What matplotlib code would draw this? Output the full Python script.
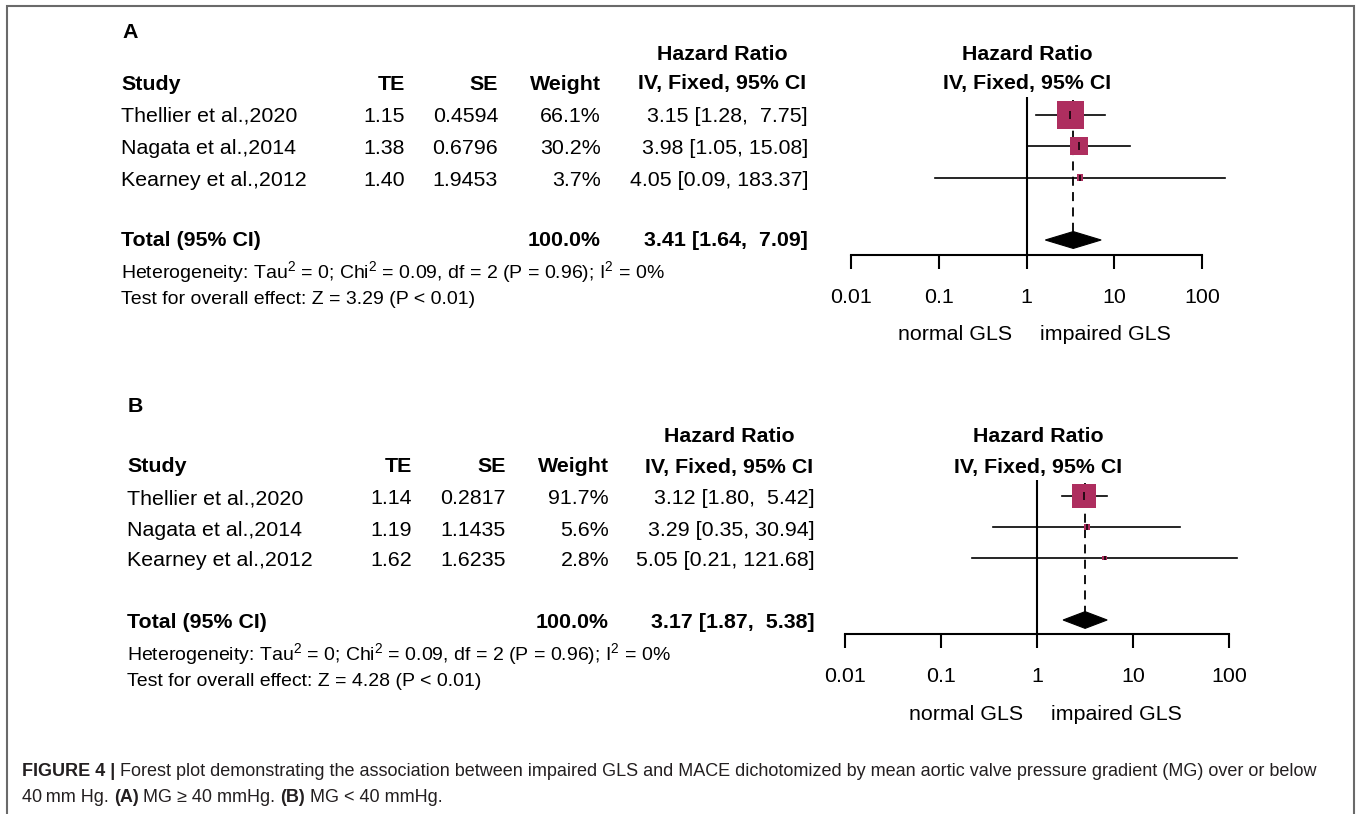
import matplotlib
matplotlib.use("Agg")
import matplotlib.pyplot as plt
import numpy as np
from matplotlib.patches import Polygon

plt.rcParams['font.family'] = ['Liberation Sans', 'DejaVu Sans']
plt.rcParams['mathtext.fontset'] = 'custom'
plt.rcParams['mathtext.rm'] = 'Liberation Sans'
plt.rcParams['mathtext.it'] = 'Liberation Sans:italic'
plt.rcParams['mathtext.bf'] = 'Liberation Sans:bold'

# ---------------- data ----------------
studies = ["Thellier et al.,2020", "Nagata et al.,2014", "Kearney et al.,2012"]

te_a = [1.15, 1.38, 1.40]
se_a = [0.4594, 0.6796, 1.9453]
weight_a = [66.1, 30.2, 3.7]
hr_a = [3.15, 3.98, 4.05]
lo_a = [1.28, 1.05, 0.09]
hi_a = [7.75, 15.08, 183.37]
total_a = [3.41, 1.64, 7.09]
z_a = 3.29

te_b = [1.14, 1.19, 1.62]
se_b = [0.2817, 1.1435, 1.6235]
weight_b = [91.7, 5.6, 2.8]
hr_b = [3.12, 3.29, 5.05]
lo_b = [1.80, 0.35, 0.21]
hi_b = [5.42, 30.94, 121.68]
total_b = [3.17, 1.87, 5.38]
z_b = 4.28

total_weight = 100.0
tau2, chi2, df_het, p_het, i2 = 0, 0.09, 2, 0.96, 0

tick_values = [0.01, 0.1, 1, 10, 100]
tick_labels = ["0.01", "0.1", "1", "10", "100"]
label_left, label_right = "normal GLS", "impaired GLS"

SQ_COLOR = "#AE2E5F"
W, H = 1357, 814

fig = plt.figure(figsize=(W / 100, H / 100), dpi=100)
bg = fig.add_axes([0, 0, 1, 1])
bg.set_xlim(0, W)
bg.set_ylim(H, 0)
bg.axis("off")

# outer frame (open at the bottom)
bg.plot([7, 7, 1354, 1354], [H, 6, 6, H], color="#6a6a6a", lw=1.5,
        solid_joinstyle="miter")

FS = 15.4
FS_SMALL = 14.0


def ci_text(est, lo, hi):
    return f"{est:.2f} [{lo:.2f}, {hi:5.2f}]"


def panel(letter, top, hdr1, hdr2, x0, cols, te, se, weight, hr, lo, hi, total, z,
          fx0, fx1, row_y, row_y_f, row_step, axis_y, vline_top, sq_scale):
    bg.text(x0 + 1, top, letter, fontsize=FS, fontweight="bold", ha="left", va="center")
    te_x, se_x, w_x, ci_x = cols
    ci_c = ci_x - 86
    bg.text(ci_c, hdr1, "Hazard Ratio", fontsize=FS, fontweight="bold", ha="center", va="center")
    bg.text(x0, hdr2, "Study", fontsize=FS, fontweight="bold", ha="left", va="center")
    bg.text(te_x, hdr2, "TE", fontsize=FS, fontweight="bold", ha="right", va="center")
    bg.text(se_x, hdr2, "SE", fontsize=FS, fontweight="bold", ha="right", va="center")
    bg.text(w_x, hdr2, "Weight", fontsize=FS, fontweight="bold", ha="right", va="center")
    bg.text(ci_c, hdr2, "IV, Fixed, 95% CI", fontsize=FS, fontweight="bold", ha="center", va="center")

    fc = (fx0 + fx1) / 2
    bg.text(fc + 1, hdr1, "Hazard Ratio", fontsize=FS, fontweight="bold", ha="center", va="center")
    bg.text(fc + 1, hdr2, "IV, Fixed, 95% CI", fontsize=FS, fontweight="bold", ha="center", va="center")

    for i, name in enumerate(studies):
        y = row_y[i]
        bg.text(x0, y, name, fontsize=FS, ha="left", va="center")
        bg.text(te_x, y, f"{te[i]:.2f}", fontsize=FS, ha="right", va="center")
        bg.text(se_x, y, f"{se[i]:.4f}", fontsize=FS, ha="right", va="center")
        bg.text(w_x, y, f"{weight[i]:.1f}%", fontsize=FS, ha="right", va="center")
        bg.text(ci_x, y, ci_text(hr[i], lo[i], hi[i]), fontsize=FS, ha="right", va="center")

    ty = row_y[3]
    bg.text(x0, ty, "Total (95% CI)", fontsize=FS, fontweight="bold", ha="left", va="center")
    bg.text(w_x, ty, f"{total_weight:.1f}%", fontsize=FS, fontweight="bold", ha="right", va="center")
    bg.text(ci_x, ty, ci_text(*total), fontsize=FS, fontweight="bold", ha="right", va="center")

    het = (f"Heterogeneity: Tau$^2$ = {tau2}; Chi$^2$ = {chi2:.2f}, df = {df_het} "
           f"(P = {p_het:.2f}); I$^2$ = {i2}%")
    bg.text(x0, ty + 32, het, fontsize=FS_SMALL, ha="left", va="center")
    bg.text(x0, ty + 60, f"Test for overall effect: Z = {z:.2f} (P < 0.01)",
            fontsize=FS_SMALL, ha="left", va="center")

    # forest plot axes, log-scaled hazard ratio
    r_top = 1 + (vline_top - row_y_f[0]) / row_step
    r_bot = 1 + (axis_y - row_y_f[0]) / row_step
    ax = fig.add_axes([fx0 / W, 1 - axis_y / H, (fx1 - fx0) / W, (axis_y - vline_top) / H])
    ax.set_xscale("log")
    ax.set_xlim(tick_values[0], tick_values[-1])
    ax.set_ylim(r_bot, r_top)
    ax.patch.set_alpha(0)
    for s in ("left", "right", "top"):
        ax.spines[s].set_visible(False)
    ax.spines["bottom"].set_linewidth(1.5)
    ax.set_yticks([])
    ax.set_xticks(tick_values)
    ax.set_xticklabels(tick_labels)
    ax.minorticks_off()
    ax.tick_params(axis="x", direction="out", length=10, width=1.5, pad=14,
                   labelsize=FS)

    ax.axvline(1, color="black", lw=1.5, zorder=1)

    rows = np.arange(1, len(studies) + 1)
    dh = 0.27
    ax.plot([total[0], total[0]], [r_top + 0.1, 5 - dh], color="black", lw=1.3,
            ls=(0, (5, 3.5)), zorder=1)
    for i in range(len(studies)):
        ax.plot([lo[i], hi[i]], [rows[i], rows[i]], color="black", lw=1.2,
                clip_on=False, zorder=2)
    sizes = np.array(weight) * sq_scale
    ax.scatter(hr, rows, s=sizes, marker="s", color=SQ_COLOR, linewidths=0,
               zorder=3, clip_on=False)
    side_pt = np.sqrt(sizes)
    for i in range(len(studies)):
        ax.plot([hr[i]], [rows[i]], marker="|", color="black",
                markersize=min(side_pt[i], 6.0), mew=1.1, zorder=4)
    est, clo, chi = total
    diamond = Polygon([[clo, 5], [est, 5 - dh], [chi, 5], [est, 5 + dh]],
                      closed=True, facecolor="black", edgecolor="black", lw=0.8,
                      zorder=3)
    ax.add_patch(diamond)

    # direction labels either side of the null line
    x1 = fx0 + (fx1 - fx0) * (np.log10(1) - np.log10(tick_values[0])) / \
        (np.log10(tick_values[-1]) - np.log10(tick_values[0]))
    bg.text(x1 - 14, axis_y + 80, label_left, fontsize=FS, ha="right", va="center")
    bg.text(x1 + 14, axis_y + 80, label_right, fontsize=FS, ha="left", va="center")
    return ax


# Panel A
panel("A", 32, 54, 84, 121, (405, 498, 601, 808), te_a, se_a, weight_a, hr_a, lo_a, hi_a,
      total_a, z_a, 851, 1202, [116, 148, 181, 240], [115, 147, 178], 31.25, 255, 97, 5.72)

# Panel B
panel("B", 407, 437, 467, 127, (412, 506, 609, 815), te_b, se_b, weight_b, hr_b, lo_b, hi_b,
      total_b, z_b, 845, 1229, [499, 530, 561, 622], [496, 527, 558], 31.0, 634, 480, 3.26)

# caption with mixed bold / regular runs
CAP_FS = 13.0
CAP_COL = "#231f20"
fig.canvas.draw()
renderer = fig.canvas.get_renderer()


def runs(x, y, parts):
    for txt, bold in parts:
        t = bg.text(x, y, txt, fontsize=CAP_FS, color=CAP_COL, ha="left", va="center",
                    fontweight="bold" if bold else "normal")
        x = t.get_window_extent(renderer).x1


runs(22, 772, [("FIGURE 4 |", True),
               (" Forest plot demonstrating the association between impaired GLS and MACE "
                "dichotomized by mean aortic valve pressure gradient (MG) over or below", False)])
runs(22, 797, [("40\u2009mm Hg. ", False), ("(A)", True), (" MG \u2265 40 mmHg. ", False),
               ("(B)", True), (" MG < 40 mmHg.", False)])

fig.savefig("out.png", dpi=100)
